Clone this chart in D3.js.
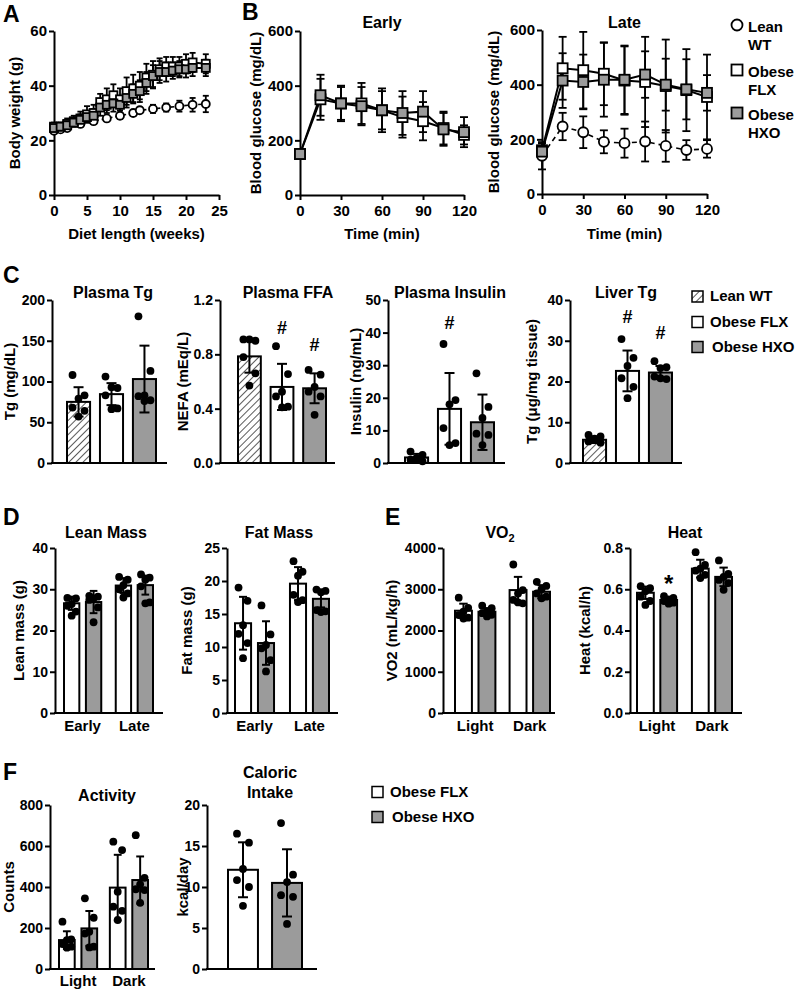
<!DOCTYPE html>
<html><head><meta charset="utf-8">
<script src="https://cdn.jsdelivr.net/npm/d3@7"></script>
<style>
body{margin:0;background:#fff}
svg text{font-family:"Liberation Sans",Arial,sans-serif;font-weight:bold;fill:#000}
</style></head><body>
<svg id="c" width="796" height="991"></svg>
<script>
// ================= DATA =================
// Panel A: body weight
const weeksWT = [0,1,2,4,6,8,10,12,13,15,17,19,21,23];
const bwWT    = [23.5,24,24.5,26,27,28,29,30,31,31.5,32,32.5,33,33.3];
const bwWTsd  = [0.8,0.8,0.8,1,1,1,1.2,1,1,1.5,1.5,2,2.5,3];
const weeksOb = [0,1,2,3,4,5,6,7,8,9,10,11,12,13,14,15,16,17,18,19,20,21,23];
const bwFLX   = [25,25,26,27,28,29.5,30,34,35,36.5,35,38,39,40,43,44,46,47,47,47,48,48.5,48];
const bwFLXsd = [1.5,1.5,2,2,2.5,3,3,3,4,4,4,5,5,5,5,5,4,3.5,3.5,3.5,3.5,3.5,3.5];
const bwHXO   = [24.5,25,25.5,26.5,27.5,28.5,29,32,33,33.5,33,35.5,37,38,41,43.5,45,45,45.5,46,46,46.5,46.5];
const bwHXOsd = [1,1,1.5,1.5,2,2,2.5,3,3,3,3,3.5,3.5,4,4,4,4,3.5,3,3,3,3,3];
const weekTicks = [0,5,10,15,20,25];
const bwTicks = [0,20,40,60];

// Panel B: glucose tolerance
const glucoseTime = [0,15,30,45,60,75,90,105,120];
const earlyFLX   = [150,350,335,335,310,285,270,245,220];
const earlyFLXsd = [15,75,60,75,80,75,70,60,35];
const earlyHXO   = [150,365,335,325,310,300,305,240,230];
const earlyHXOsd = [12,75,65,70,70,80,75,60,55];
const lateWT     = [140,247,226,191,186,192,176,161,165];
const lateWTsd   = [50,50,58,42,53,73,58,36,32];
const lateFLX    = [160,460,453,440,415,410,395,380,355];
const lateFLXsd  = [25,115,140,115,125,165,170,150,155];
const lateHXO    = [155,415,410,418,418,437,400,383,370];
const lateHXOsd  = [20,100,100,135,125,85,95,110,65];
const timeTicks = [0,30,60,90,120];
const glucoseTicks = [0,200,400,600];

// Panel C
const cGroups = ["Lean WT","Obese FLX","Obese HXO"];
const tgMean = [75,84.5,103], tgSD = [18,13.5,41];
const tgPts  = [[108,83,79,68,64,57],[106,92,93,83,67,66],[180,113,83,82,77,76]];
const ffaMean = [0.785,0.56,0.55], ffaSD = [0.12,0.17,0.11];
const ffaPts  = [[0.91,0.90,0.91,0.78,0.66,0.57],[0.86,0.655,0.525,0.49,0.415,0.41],[0.685,0.65,0.56,0.525,0.49,0.355]];
const ffaSig  = [null,1.0,0.87];
const insMean = [1.7,16.6,12.5], insSD = [1.1,11,8.5];
const insPts  = [[3.5,2.5,1.5,1,0.5,1.3],[36.5,19.3,18,10.7,6.1,5.5],[27.5,17.2,13.8,9,8.6,5.5]];
const insSig  = [null,43,null];
const livMean = [5.7,22.6,22.2], livSD = [0.8,5,1.6];
const livPts  = [[6.9,6.5,5.7,5.3,5.0,6.0],[30.4,25.8,23.8,20.8,18.7,15.9],[25,23.5,23.3,21.2,20.6,20.8]];
const livSig  = [null,36,32];

// Panels D, E, F
const obeseGroups = ["Obese FLX","Obese HXO"];
const phases = ["Early","Late"];
const lightDark = ["Light","Dark"];
const leanFLX = [26.6,30.9], leanFLXsd = [1.6,1.8];
const leanFLXpts = [[27.9,27.8,26.4,26,24.6,23.6],[33,32.3,31,30,29,28]];
const leanHXO = [26.9,31.0], leanHXOsd = [2.7,2.3];
const leanHXOpts = [[28.4,28.2,27.8,27.4,25.6,22],[33.6,32.8,32.3,30.7,26.8,26.6]];
const fatFLX = [13.6,19.6], fatFLXsd = [4,2.5];
const fatFLXpts = [[19,17,13.3,12,10.6,8.3],[23,21.4,20.8,17.9,17.1,16.8]];
const fatHXO = [10.6,17.3], fatHXOsd = [3.3,1.3];
const fatHXOpts = [[16.3,11.9,10.3,9.8,8,6.3],[18.7,18.5,18.3,15.6,15.4,15.3]];
const vo2FLX = [2480,2980], vo2FLXsd = [170,320];
const vo2FLXpts = [[2795,2550,2460,2375,2310,2290],[3600,2980,2900,2740,2660,2680]];
const vo2HXO = [2455,2940], vo2HXOsd = [85,160];
const vo2HXOpts = [[2600,2540,2470,2420,2380,2340],[3180,3080,3000,2900,2820,2780]];
const heatFLX = [0.583,0.70], heatFLXsd = [0.03,0.043];
const heatFLXpts = [[0.615,0.605,0.59,0.564,0.543,0.524],[0.78,0.718,0.70,0.69,0.67,0.654]];
const heatHXO = [0.548,0.66], heatHXOsd = [0.014,0.045];
const heatHXOpts = [[0.566,0.558,0.551,0.543,0.535,0.53],[0.74,0.675,0.66,0.645,0.63,0.597]];
const heatSig = {cat:"Light", ser:"Obese HXO", val:0.668, sym:"*"};
const actFLX = [141,397], actFLXsd = [43,160];
const actFLXpts = [[231,145,141,122,109,104],[621,580,377,304,284,239]];
const actHXO = [198,434], actHXOsd = [85,115];
const actHXOpts = [[345,250,182,173,109,105],[653,445,413,389,385,323]];
const calMean = [12.1,10.5], calSD = [3.35,4.1];
const calPts = [[16.5,15.4,12.2,10.85,10,7.7],[17.8,11.5,10.6,9,8.8,5.5]];

// ================= DRAWING =================
const FONT = '"Liberation Sans", Arial, sans-serif';
const GRAY = "#9b9b9b";
const svg = d3.select("#c");
const defs = svg.append("defs");
const pat = defs.append("pattern").attr("id","hatch").attr("patternUnits","userSpaceOnUse")
  .attr("width",5).attr("height",5).attr("patternTransform","rotate(45)");
pat.append("rect").attr("width",5).attr("height",5).attr("fill","#fff");
pat.append("line").attr("x1",0).attr("y1",0).attr("x2",0).attr("y2",5).attr("stroke","#000").attr("stroke-width",1.3);
const FILLS = {"Lean WT":"url(#hatch)","Obese FLX":"#fff","Obese HXO":GRAY};

function styleAxis(g, fs){
  g.select(".domain").attr("stroke","#000").attr("stroke-width",2);
  g.selectAll(".tick line").attr("stroke","#000").attr("stroke-width",2);
  g.selectAll(".tick text").attr("font-size",fs).attr("font-weight","bold").attr("font-family",FONT).attr("fill","#000");
}
function txt(x,y,s,fs,anchor){
  return svg.append("text").attr("x",x).attr("y",y).attr("font-size",fs).attr("text-anchor",anchor||"middle").text(s);
}
function yLabel(x,ymid,s,fs){
  return svg.append("text").attr("transform",`translate(${x},${ymid}) rotate(-90)`)
    .attr("text-anchor","middle").attr("dy","0.36em").attr("font-size",fs).text(s);
}
function marker(g,type,cx,cy,size,fill){
  if(type==="circle"){
    g.append("circle").attr("cx",cx).attr("cy",cy).attr("r",size/2).attr("fill",fill).attr("stroke","#000").attr("stroke-width",1.8);
  } else {
    g.append("rect").attr("x",cx-size/2).attr("y",cy-size/2).attr("width",size).attr("height",size).attr("fill",fill).attr("stroke","#000").attr("stroke-width",1.8);
  }
}
function errBar(g,x,yHi,yLo,cap,sw){
  g.append("line").attr("x1",x).attr("x2",x).attr("y1",yHi).attr("y2",yLo).attr("stroke","#000").attr("stroke-width",sw);
  g.append("line").attr("x1",x-cap/2).attr("x2",x+cap/2).attr("y1",yHi).attr("y2",yHi).attr("stroke","#000").attr("stroke-width",sw);
  g.append("line").attr("x1",x-cap/2).attr("x2",x+cap/2).attr("y1",yLo).attr("y2",yLo).attr("stroke","#000").attr("stroke-width",sw);
}

// panel letters
[["A",3,22],["B",242,20],["C",3,283],["D",3,525],["E",385,525],["F",3,780]].forEach(d=>txt(d[1],d[2],d[0],23,"start"));

// ---------- XY line panels ----------
function linePanel(c){
  const x = d3.scaleLinear().domain(c.xDomain).range([c.x0,c.x1]);
  const y = d3.scaleLinear().domain(c.yDomain).range([c.yBot,c.yTop]);
  const g = svg.append("g");
  const gx = g.append("g").attr("transform",`translate(0,${c.yBot})`)
    .call(d3.axisBottom(x).tickValues(c.xTicks).tickSize(5).tickSizeOuter(0).tickPadding(5));
  styleAxis(gx,c.tickFs);
  const gy = g.append("g").attr("transform",`translate(${c.x0},0)`)
    .call(d3.axisLeft(y).tickValues(c.yTicks).tickSize(5).tickSizeOuter(0).tickPadding(2));
  styleAxis(gy,c.tickFs);
  c.series.forEach(s=>{
    const line = d3.line().x((d,i)=>x(s.xs[i])).y(d=>y(d));
    g.append("path").datum(s.ys).attr("d",line).attr("fill","none").attr("stroke","#000")
      .attr("stroke-width",s.dash?1.6:2).attr("stroke-dasharray",s.dash||null);
  });
  c.series.forEach(s=>{
    s.ys.forEach((v,i)=>errBar(g,x(s.xs[i]),y(v+s.sds[i]),y(Math.max(0,v-s.sds[i])),c.cap,1.8));
  });
  c.series.forEach(s=>{
    s.ys.forEach((v,i)=>marker(g,s.marker,x(s.xs[i]),y(v),c.msize,s.fill));
  });
  if(c.title) txt((c.x0+c.x1)/2,c.titleY,c.title,16);
  yLabel(c.ylabelX,(c.yTop+c.yBot)/2,c.ylabel,15);
  txt((c.x0+c.x1)/2,c.xlabelY,c.xlabel,15);
}

linePanel({x0:54,x1:219,yTop:31,yBot:195,xDomain:[0,25],yDomain:[0,60],xTicks:weekTicks,yTicks:bwTicks,
  tickFs:15,cap:6,msize:8,ylabel:"Body weight (g)",ylabelX:15,xlabel:"Diet length (weeks)",xlabelY:239,
  series:[
    {xs:weeksWT,ys:bwWT,sds:bwWTsd,marker:"circle",fill:"#fff",dash:"4,3"},
    {xs:weeksOb,ys:bwFLX,sds:bwFLXsd,marker:"square",fill:"#fff"},
    {xs:weeksOb,ys:bwHXO,sds:bwHXOsd,marker:"square",fill:GRAY}
  ]});

linePanel({x0:300,x1:464,yTop:31,yBot:195,xDomain:[0,120],yDomain:[0,600],xTicks:timeTicks,yTicks:glucoseTicks,
  tickFs:15,cap:8,msize:10,title:"Early",titleY:28,ylabel:"Blood glucose (mg/dL)",ylabelX:256,xlabel:"Time (min)",xlabelY:239,
  series:[
    {xs:glucoseTime,ys:earlyFLX,sds:earlyFLXsd,marker:"square",fill:"#fff"},
    {xs:glucoseTime,ys:earlyHXO,sds:earlyHXOsd,marker:"square",fill:GRAY}
  ]});

linePanel({x0:542,x1:707,yTop:30,yBot:194,xDomain:[0,120],yDomain:[0,600],xTicks:timeTicks,yTicks:glucoseTicks,
  tickFs:15,cap:8,msize:10,title:"Late",titleY:28,ylabel:"Blood glucose (mg/dL)",ylabelX:494,xlabel:"Time (min)",xlabelY:239,
  series:[
    {xs:glucoseTime,ys:lateWT,sds:lateWTsd,marker:"circle",fill:"#fff",dash:"5,4"},
    {xs:glucoseTime,ys:lateFLX,sds:lateFLXsd,marker:"square",fill:"#fff"},
    {xs:glucoseTime,ys:lateHXO,sds:lateHXOsd,marker:"square",fill:GRAY}
  ]});

// Legend B
{
  const g = svg.append("g");
  marker(g,"circle",737,25,11,"#fff");
  marker(g,"square",737,70,11,"#fff");
  marker(g,"square",737,113,11,GRAY);
  [["Lean",32],["WT",50],["Obese",77],["FLX",95],["Obese",120],["HXO",138]].forEach(d=>txt(748,d[1],d[0],15,"start"));
}

// ---------- Bar panels ----------
const JIT = [-1,1,0,-1,1,0];
function barPanel(c){
  const y = d3.scaleLinear().domain(c.yDomain).range([c.yBot,c.yTop]);
  const outer = d3.scaleBand().domain(c.cats).range([c.b0,c.b1]).paddingInner(c.pOuter).paddingOuter(0);
  const inner = d3.scaleBand().domain(c.sers).range([0,outer.bandwidth()]).paddingInner(c.pInner).paddingOuter(0);
  const g = svg.append("g");
  g.append("line").attr("x1",c.ax0-1).attr("x2",c.ax1).attr("y1",c.yBot).attr("y2",c.yBot).attr("stroke","#000").attr("stroke-width",2);
  const gy = g.append("g").attr("transform",`translate(${c.ax0},0)`)
    .call(d3.axisLeft(y).tickValues(c.yTicks).tickFormat(c.fmt||(d=>d)).tickSize(5).tickSizeOuter(0).tickPadding(2));
  styleAxis(gy,14);
  const bw = inner.bandwidth();
  const cap = Math.min(10,bw*0.5);
  const jw = Math.min(6,bw*0.28);
  c.bars.forEach(b=>{
    const x0 = outer(b.cat)+inner(b.ser);
    const cx = x0+bw/2;
    g.append("rect").attr("x",x0).attr("y",y(b.mean)).attr("width",bw).attr("height",y(0)-y(b.mean))
      .attr("fill",FILLS[b.group]).attr("stroke","#000").attr("stroke-width",2);
    b.pts.forEach((p,i)=>{
      g.append("circle").attr("cx",cx+JIT[i%6]*jw).attr("cy",y(p)).attr("r",3.9).attr("fill","#000");
    });
    errBar(g,cx,y(b.mean+b.sd),y(Math.max(0,b.mean-b.sd)),cap,2);
    if(b.sig) txt(cx,y(b.sig.val),b.sig.sym,b.sig.sym==="*"?24:18).attr("dy",b.sig.sym==="*"?"0.7em":"0.36em");
  });
  if(c.catLabels) c.cats.forEach(k=>txt(outer(k)+outer.bandwidth()/2,c.catY,k,15));
  (Array.isArray(c.title)?c.title:[c.title]).forEach((t,i)=>{
    const el = txt(c.titleX,c.titleY+i*20,"",16);
    if(t==="VO2"){ el.append("tspan").text("VO"); el.append("tspan").attr("font-size",11).attr("dy",4).text("2"); }
    else el.text(t);
  });
  yLabel(c.ylabelX,(c.yTop+c.yBot)/2,c.ylabel,15);
}
// one bar per category (panel C, caloric intake)
function singleBars(groups,means,sds,pts,sig){
  return groups.map((gname,i)=>({cat:gname,ser:"one",group:gname,mean:means[i],sd:sds[i],pts:pts[i],
    sig:sig&&sig[i]!=null?{val:sig[i],sym:"#"}:null}));
}
// two bars (FLX, HXO) per category
function groupedBars(cats,fM,fS,fP,hM,hS,hP,sig){
  const out=[];
  cats.forEach((k,i)=>{
    out.push({cat:k,ser:"Obese FLX",group:"Obese FLX",mean:fM[i],sd:fS[i],pts:fP[i]});
    out.push({cat:k,ser:"Obese HXO",group:"Obese HXO",mean:hM[i],sd:hS[i],pts:hP[i],
      sig:sig&&sig.cat===k&&sig.ser==="Obese HXO"?{val:sig.val,sym:sig.sym}:null});
  });
  return out;
}

// ----- C -----
const cRow = {yTop:300,yBot:463,titleY:298,pOuter:0.3,pInner:0,cats:cGroups,sers:["one"],catLabels:false};
barPanel(Object.assign({},cRow,{ax0:52,ax1:167,b0:67,b1:156,yDomain:[0,200],yTicks:[0,50,100,150,200],
  title:"Plasma Tg",titleX:113,ylabel:"Tg (mg/dL)",ylabelX:10,bars:singleBars(cGroups,tgMean,tgSD,tgPts,null)}));
barPanel(Object.assign({},cRow,{ax0:220,ax1:335,b0:238,b1:326,yDomain:[0,1.2],yTicks:[0,0.4,0.8,1.2],fmt:d3.format(".1f"),
  title:"Plasma FFA",titleX:288,ylabel:"NEFA (mEq/L)",ylabelX:183,bars:singleBars(cGroups,ffaMean,ffaSD,ffaPts,ffaSig)}));
barPanel(Object.assign({},cRow,{ax0:388,ax1:505,b0:405,b1:494,yDomain:[0,50],yTicks:[0,10,20,30,40,50],
  title:"Plasma Insulin",titleX:450,ylabel:"Insulin (ng/mL)",ylabelX:356,bars:singleBars(cGroups,insMean,insSD,insPts,insSig)}));
barPanel(Object.assign({},cRow,{ax0:570,ax1:682,b0:583,b1:672,yDomain:[0,40],yTicks:[0,10,20,30,40],
  title:"Liver Tg",titleX:626,ylabel:"Tg (\u03bcg/mg tissue)",ylabelX:532,bars:singleBars(cGroups,livMean,livSD,livPts,livSig)}));

// Legend C
{
  const g = svg.append("g");
  [["Lean WT",296.5,301,710],["Obese FLX",322,327,710],["Obese HXO",347,352,712]].forEach(d=>{
    g.append("rect").attr("x",692).attr("y",d[1]-5.5).attr("width",11).attr("height",11)
      .attr("fill",FILLS[d[0]]).attr("stroke","#000").attr("stroke-width",1.5);
    txt(d[3],d[2],d[0],15,"start");
  });
}

// ----- D -----
const dRow = {yTop:548,yBot:713,titleY:538,catY:731,catLabels:true,sers:obeseGroups};
barPanel(Object.assign({},dRow,{ax0:55,ax1:163,b0:64,b1:153,pOuter:0.28,pInner:0.3,cats:phases,
  yDomain:[0,40],yTicks:[0,10,20,30,40],title:"Lean Mass",titleX:106,ylabel:"Lean mass (g)",ylabelX:19,
  bars:groupedBars(phases,leanFLX,leanFLXsd,leanFLXpts,leanHXO,leanHXOsd,leanHXOpts,null)}));
barPanel(Object.assign({},dRow,{ax0:227,ax1:338,b0:235,b1:329,pOuter:0.29,pInner:0.3,cats:phases,
  yDomain:[0,25],yTicks:[0,5,10,15,20,25],title:"Fat Mass",titleX:279,ylabel:"Fat mass (g)",ylabelX:187,
  bars:groupedBars(phases,fatFLX,fatFLXsd,fatFLXpts,fatHXO,fatHXOsd,fatHXOpts,null)}));
// ----- E -----
barPanel(Object.assign({},dRow,{ax0:443,ax1:555,b0:455,b1:550,pOuter:0.26,pInner:0.28,cats:lightDark,
  yDomain:[0,4000],yTicks:[0,1000,2000,3000,4000],title:"VO2",titleX:500,ylabel:"VO2 (mL/kg/h)",ylabelX:392,
  bars:groupedBars(lightDark,vo2FLX,vo2FLXsd,vo2FLXpts,vo2HXO,vo2HXOsd,vo2HXOpts,null)}));
barPanel(Object.assign({},dRow,{ax0:630,ax1:742,b0:637,b1:732,pOuter:0.27,pInner:0.28,cats:lightDark,
  yDomain:[0,0.8],yTicks:[0,0.2,0.4,0.6,0.8],fmt:d3.format(".1f"),title:"Heat",titleX:685,ylabel:"Heat (kcal/h)",ylabelX:585,
  bars:groupedBars(lightDark,heatFLX,heatFLXsd,heatFLXpts,heatHXO,heatHXOsd,heatHXOpts,heatSig)}));
// ----- F -----
barPanel({ax0:50,ax1:155,b0:59,b1:148,pOuter:0.25,pInner:0.3,cats:lightDark,sers:obeseGroups,
  yTop:805,yBot:969,titleY:801,catY:986,catLabels:true,
  yDomain:[0,800],yTicks:[0,200,400,600,800],title:"Activity",titleX:107,ylabel:"Counts",ylabelX:9,
  bars:groupedBars(lightDark,actFLX,actFLXsd,actFLXpts,actHXO,actHXOsd,actHXOpts,null)});
barPanel({ax0:207,ax1:317,b0:228,b1:302,pOuter:0.32,pInner:0,cats:obeseGroups,sers:["one"],
  yTop:805,yBot:969,titleY:778,catLabels:false,
  yDomain:[0,20],yTicks:[0,5,10,15,20],title:["Caloric","Intake"],titleX:270,ylabel:"kcal/day",ylabelX:183,
  bars:singleBars(obeseGroups,calMean,calSD,calPts,null)});

// Legend F
{
  const g = svg.append("g");
  [["Obese FLX",792,797,390],["Obese HXO",817,822,392]].forEach(d=>{
    g.append("rect").attr("x",372).attr("y",d[1]-5.5).attr("width",11).attr("height",11)
      .attr("fill",FILLS[d[0]]).attr("stroke","#000").attr("stroke-width",1.5);
    txt(d[3],d[2],d[0],15,"start");
  });
}
</script>
</body></html>
